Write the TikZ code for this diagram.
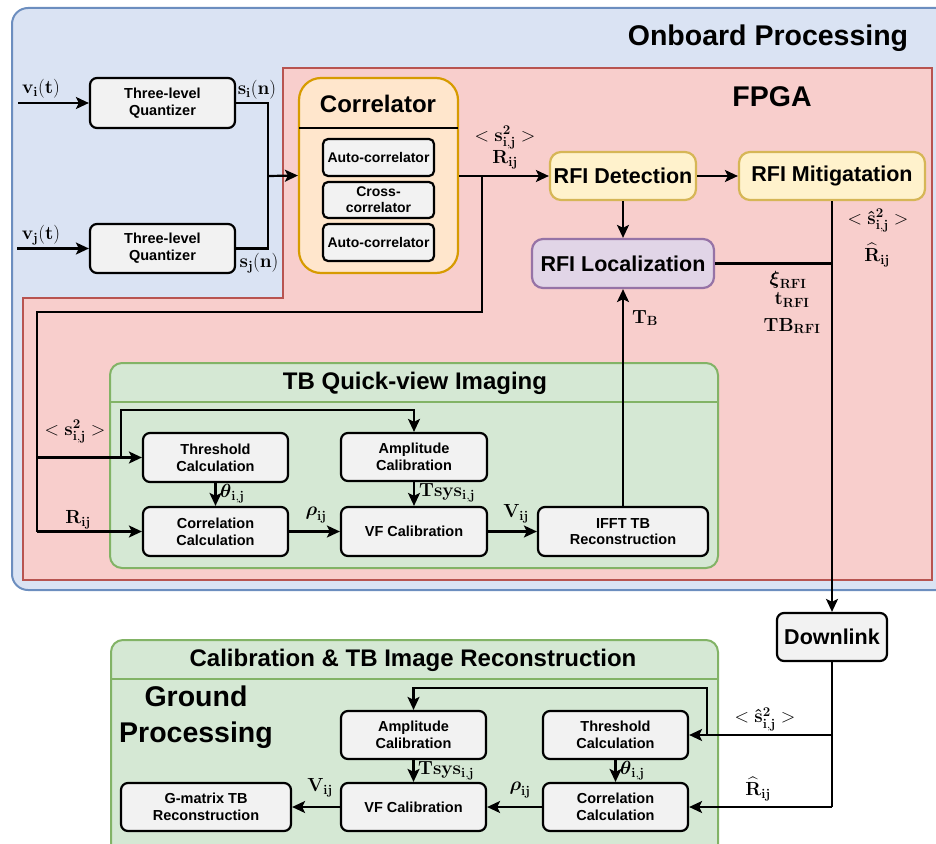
\RequirePackage{fix-cm}
\documentclass[tikz,border=0pt]{standalone}
\usepackage{amsmath}
\usepackage[no-math]{fontspec}
\setsansfont{Liberation Sans}
\usepackage{tikz}
\usetikzlibrary{arrows.meta}
\definecolor{obfill}{HTML}{DAE3F3}
\definecolor{obline}{HTML}{6C8EBF}
\definecolor{fpgafill}{HTML}{F8CECC}
\definecolor{fpgaline}{HTML}{B85450}
\definecolor{corrfill}{HTML}{FFE6CC}
\definecolor{corrline}{HTML}{D79B00}
\definecolor{rfifill}{HTML}{FFF2CC}
\definecolor{rfiline}{HTML}{D6B656}
\definecolor{locfill}{HTML}{E1D5E7}
\definecolor{locline}{HTML}{9673A6}
\definecolor{grfill}{HTML}{D5E8D4}
\definecolor{grline}{HTML}{82B366}
\definecolor{boxgray}{HTML}{F2F2F2}

\begin{document}
\begin{tikzpicture}[x=1pt,y=-1pt,
  box/.style={draw, line width=2.2pt, rounded corners=7pt, fill=boxgray, align=center,
    inner sep=1pt, font=\sffamily\bfseries\fontsize{14.5}{16.7}\selectfont},
  rfi/.style={draw, line width=2.2pt, rounded corners=11pt, align=center,
    font=\sffamily\bfseries\fontsize{21.5}{24}\selectfont},
  wire/.style={line width=2.2pt},
  arr/.style={line width=2.2pt, -{Stealth[length=13pt,width=12pt,inset=3pt]}},
  lbl/.style={inner sep=0pt, font=\fontsize{19}{22}\selectfont},
  headtxt/.style={font=\sffamily\bfseries\fontsize{24}{28}\selectfont},
  bigtxt/.style={align=center, font=\sffamily\bfseries\fontsize{28.5}{36}\selectfont}]
  \useasboundingbox (0,0) rectangle (936,843);
  \clip (0,0) rectangle (936,843);

  % frames
  \draw[fill=obfill, draw=obline, line width=2pt, rounded corners=16pt] (12,8) rectangle (952,590);
  \draw[fill=fpgafill, draw=fpgaline, line width=2pt] (283,68) -- (932,68) -- (932,580) -- (23,580) -- (23,298) -- (283,298) -- cycle;
  \node[bigtxt] (onboard) at (768,38) {Onboard Processing};
  \node[bigtxt] (fpga) at (772,97) {FPGA};

  \draw[fill=grfill, draw=grline, line width=2pt, rounded corners=12pt] (110,363) rectangle (718,568);
  \draw[grline, line width=2pt] (110,402) -- (718,402);
  \node[headtxt] (quicktitle) at (415,383) {TB Quick-view Imaging};

  \draw[fill=grfill, draw=grline, line width=2pt, rounded corners=12pt] (111,640) rectangle (718,870);
  \draw[grline, line width=2pt] (111,679) -- (718,679);
  \node[headtxt] (groundtitle) at (413,660) {Calibration \& TB Image Reconstruction};
  \node[bigtxt] (ground) at (196,717) {Ground\\Processing};

  % quantizers and correlator
  \node[box, minimum width=145pt, minimum height=50pt] (quantI) at (162.5,103) {Three-level\\Quantizer};
  \node[box, minimum width=145pt, minimum height=49pt] (quantJ) at (162.5,248.5) {Three-level\\Quantizer};
  \node[draw=corrline, fill=corrfill, line width=2.2pt, rounded corners=22pt, minimum width=159pt, minimum height=195pt] (corr) at (378.5,175.5) {};
  \node[headtxt] (corrtitle) at (378,104) {Correlator};
  \draw[wire] (299,128) -- (458,128);
  \node[box, rounded corners=5pt, minimum width=111pt, minimum height=37pt, font=\sffamily\bfseries\fontsize{14}{16}\selectfont] (autoA) at (378.5,157.5) {Auto-correlator};
  \node[box, rounded corners=5pt, minimum width=111pt, minimum height=36pt, font=\sffamily\bfseries\fontsize{14}{16}\selectfont] (cross) at (378.5,200) {Cross-\\correlator};
  \node[box, rounded corners=5pt, minimum width=111pt, minimum height=37pt, font=\sffamily\bfseries\fontsize{14}{16}\selectfont] (autoB) at (378.5,242.5) {Auto-correlator};

  % RFI blocks
  \node[rfi, fill=rfifill, draw=rfiline, minimum width=146pt, minimum height=48pt] (det) at (623,176) {RFI Detection};
  \node[rfi, fill=rfifill, draw=rfiline, minimum width=186pt, minimum height=48pt] (mit) at (832,176) {RFI Mitigatation};
  \node[rfi, fill=locfill, draw=locline, minimum width=182pt, minimum height=49pt] (loc) at (623,263.5) {RFI Localization};

  % quick-view blocks
  \node[box, minimum width=145pt, minimum height=49pt] (thrA) at (215.5,457.5) {Threshold\\Calculation};
  \node[box, minimum width=146pt, minimum height=48pt] (ampA) at (414,457) {Amplitude\\Calibration};
  \node[box, minimum width=145pt, minimum height=49pt] (corA) at (215.5,531.5) {Correlation\\Calculation};
  \node[box, minimum width=146pt, minimum height=49pt] (vfA) at (414,531.5) {VF Calibration};
  \node[box, minimum width=170pt, minimum height=49pt] (ifft) at (623,531.5) {IFFT TB\\Reconstruction};

  % ground blocks
  \node[box, minimum width=110pt, minimum height=48pt, font=\sffamily\bfseries\fontsize{21.5}{24}\selectfont] (down) at (832,637) {Downlink};
  \node[box, minimum width=145pt, minimum height=48pt] (ampB) at (413.5,735) {Amplitude\\Calibration};
  \node[box, minimum width=145pt, minimum height=48pt] (thrB) at (615.5,735) {Threshold\\Calculation};
  \node[box, minimum width=170pt, minimum height=48pt] (gmat) at (206,807) {G-matrix TB\\Reconstruction};
  \node[box, minimum width=145pt, minimum height=48pt] (vfB) at (413.5,807) {VF Calibration};
  \node[box, minimum width=145pt, minimum height=48pt] (corB) at (615.5,807) {Correlation\\Calculation};

  % inputs
  \coordinate (vi) at (18,103);
  \coordinate (vj) at (17,248.5);
  \coordinate (merge) at (268,176);
  \draw[arr] (vi) -- (quantI.west);
  \draw[arr] (vj) -- (quantJ.west);
  \draw[wire] (quantI.east) -| (merge);
  \draw[wire] (quantJ.east) -| (merge);
  \draw[arr] (merge) -- (corr.west);
  \node[lbl] (viL) at (41,89) {$\mathbf{v_i(t)}$};
  \node[lbl] (vjL) at (41,235) {$\mathbf{v_j(t)}$};
  \node[lbl] (siL) at (257,90) {$\mathbf{s_i(n)}$};
  \node[lbl] (sjL) at (259,263) {$\mathbf{s_j(n)}$};

  % correlator output
  \coordinate (tap) at (482,176);
  \coordinate (feedR) at (482,312);
  \coordinate (feedL) at (37,312);
  \coordinate (feedS) at (37,457.5);
  \coordinate (feedB) at (37,531.5);
  \coordinate (ampUp) at (121,457.5);
  \draw[arr] (corr.east |- det.west) -- (det.west);
  \draw[wire] (tap) -- (feedR) -- (feedL) -- (feedB);
  \draw[arr] (feedB) -- (corA.west);
  \draw[arr] (feedS) -- (thrA.west);
  \draw[arr] (ampUp) |- (121,410) -| (ampA.north);
  \node[lbl] (sqA) at (505,138) {$<\mathbf{s^2_{i,j}}>$};
  \node[lbl] (rA) at (505,160) {$\mathbf{R_{ij}}$};
  \node[lbl] (sqL) at (75,432) {$<\mathbf{s^2_{i,j}}>$};
  \node[lbl] (rL) at (78,520) {$\mathbf{R_{ij}}$};

  % RFI path
  \draw[arr] (det.east) -- (mit.west);
  \draw[arr] (det.south) -- (loc.north);
  \draw[wire] (loc.east) -- (loc.east -| mit.south);
  \draw[arr] (mit.south) -- (down.north);
  \draw[arr] (ifft.north) -- (loc.south);
  \node[lbl] (tbL) at (645,318) {$\mathbf{T_B}$};
  \node[lbl] (shatA) at (878,221) {$<\mathbf{\hat{s}^2_{i,j}}>$};
  \node[lbl] (rhatA) at (877,255) {$\mathbf{\widehat{R}_{ij}}$};
  \node[lbl] (xiL) at (788,280) {$\boldsymbol{\xi}_{\mathbf{RFI}}$};
  \node[lbl] (tL) at (792,300) {$\mathbf{t_{RFI}}$};
  \node[lbl] (tbrL) at (792,326) {$\mathbf{TB_{RFI}}$};

  % quick-view chain
  \draw[arr] (thrA.south) -- (corA.north);
  \draw[arr] (ampA.south) -- (vfA.north);
  \draw[arr] (corA.east) -- (vfA.west);
  \draw[arr] (vfA.east) -- (ifft.west);
  \node[lbl, anchor=west] (thA) at (220,494) {$\boldsymbol{\theta}_{\mathbf{i,j}}$};
  \node[lbl, anchor=west] (tsA) at (419,493) {$\mathbf{Tsys_{i,j}}$};
  \node[lbl] (rhoA) at (316,515) {$\boldsymbol{\rho}_{\mathbf{ij}}$};
  \node[lbl] (vA) at (516,514) {$\mathbf{V_{ij}}$};

  % ground chain
  \coordinate (dnB) at (832,807);
  \coordinate (dnS) at (832,735);
  \coordinate (gTap) at (707,735);
  \draw[wire] (down.south) -- (dnB);
  \draw[arr] (dnB) -- (corB.east);
  \draw[arr] (dnS) -- (thrB.east);
  \draw[arr] (gTap) |- (707,688) -| (ampB.north);
  \draw[arr] (thrB.south) -- (corB.north);
  \draw[arr] (ampB.south) -- (vfB.north);
  \draw[arr] (corB.west) -- (vfB.east);
  \draw[arr] (vfB.west) -- (gmat.east);
  \node[lbl] (shatB) at (765,719) {$<\mathbf{\hat{s}^2_{i,j}}>$};
  \node[lbl] (rhatB) at (758,789) {$\mathbf{\widehat{R}_{ij}}$};
  \node[lbl, anchor=west] (thB) at (620,771) {$\boldsymbol{\theta}_{\mathbf{i,j}}$};
  \node[lbl, anchor=west] (tsB) at (418,771) {$\mathbf{Tsys_{i,j}}$};
  \node[lbl] (rhoB) at (520,790) {$\boldsymbol{\rho}_{\mathbf{ij}}$};
  \node[lbl] (vB) at (320,788) {$\mathbf{V_{ij}}$};
\end{tikzpicture}
\end{document}
